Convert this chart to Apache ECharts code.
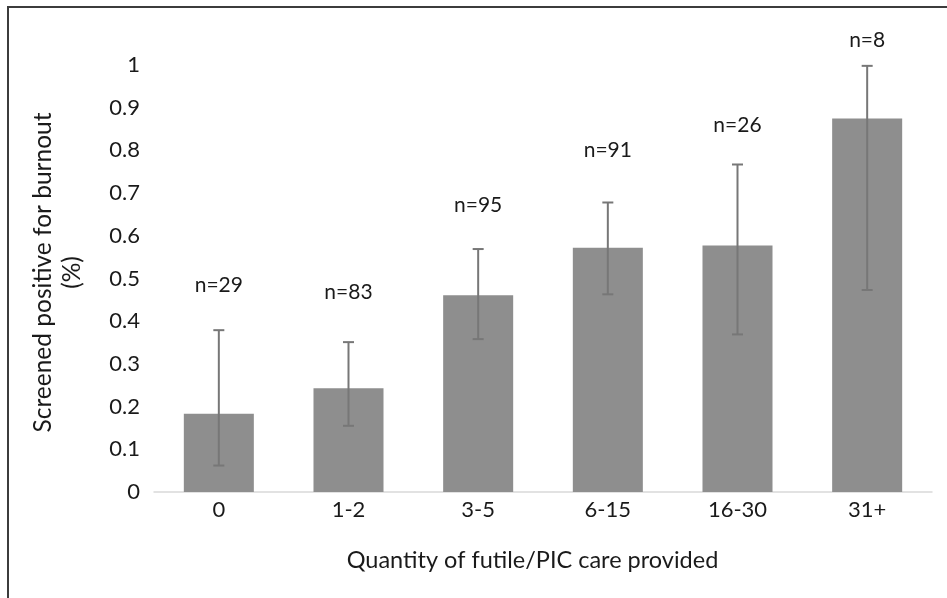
<!DOCTYPE html>
<html>
<head>
<meta charset="utf-8">
<script src="https://cdn.jsdelivr.net/npm/echarts@6/dist/echarts.min.js"></script>
<style>
html,body{margin:0;padding:0;background:#fff;}
#chart{width:947px;height:598px;}
</style>
</head>
<body>
<div id="chart"></div>
<script>
// ---- data ----
var categories = ['0', '1-2', '3-5', '6-15', '16-30', '31+'];
var burnout = [0.183, 0.243, 0.461, 0.572, 0.577, 0.875];
var errLow = [0.062, 0.155, 0.358, 0.463, 0.369, 0.473];
var errHigh = [0.379, 0.351, 0.569, 0.678, 0.767, 0.998];
var nLabels = ['n=29', 'n=83', 'n=95', 'n=91', 'n=26', 'n=8'];
var nLabelAt = [0.484, 0.469, 0.672, 0.801, 0.859, 1.059];
var yTicks = { min: 0, max: 1, interval: 0.1 };

var FONT = 'Lato, "Open Sans", sans-serif';
var chart = echarts.init(document.getElementById('chart'), null, { renderer: 'canvas' });

var errData = categories.map(function (c, i) { return [i, errLow[i], errHigh[i]]; });
var labelData = categories.map(function (c, i) { return [i, nLabelAt[i], nLabels[i]]; });

chart.setOption({
  animation: false,
  backgroundColor: '#fff',
  graphic: [{
    type: 'polyline',
    shape: { points: [[8, 598], [8, 7], [947, 7]] },
    style: { stroke: '#3c3c3c', lineWidth: 2, fill: null },
    silent: true
  }],
  grid: { left: 154, right: 15, top: 65, bottom: 106 },
  xAxis: {
    type: 'category',
    data: categories,
    axisLine: { lineStyle: { color: '#d9d9d9', width: 1.5 } },
    axisTick: { show: false },
    axisLabel: { color: '#1a1a1a', fontFamily: FONT, fontSize: 22, margin: 7 },
    name: 'Quantity of futile/PIC care provided',
    nameLocation: 'middle',
    nameGap: 56,
    nameTextStyle: { color: '#1a1a1a', fontFamily: FONT, fontSize: 23.5, padding: [0, 21, 0, 0] }
  },
  yAxis: {
    type: 'value',
    min: yTicks.min, max: yTicks.max, interval: yTicks.interval,
    splitLine: { show: false },
    axisLine: { show: false },
    axisTick: { show: false },
    axisLabel: { color: '#1a1a1a', fontFamily: FONT, fontSize: 22, margin: 14 },
    name: 'Screened positive for burnout\n(%)',
    nameLocation: 'middle',
    nameRotate: 90,
    nameGap: 67,
    nameTextStyle: { color: '#1a1a1a', fontFamily: FONT, fontSize: 24.5, lineHeight: 29, padding: [0, 0, 0, 12] }
  },
  series: [
    {
      type: 'bar',
      data: burnout,
      barCategoryGap: '46%',
      itemStyle: { color: '#8e8e8e' }
    },
    {
      type: 'custom',
      data: errData,
      z: 5,
      renderItem: function (params, api) {
        var x = api.coord([api.value(0), 0])[0];
        var lo = api.coord([api.value(0), api.value(1)])[1];
        var hi = api.coord([api.value(0), api.value(2)])[1];
        var cap = 5.5;
        var st = { stroke: '#777777', lineWidth: 2 };
        return {
          type: 'group',
          children: [
            { type: 'line', shape: { x1: x, y1: lo, x2: x, y2: hi }, style: st },
            { type: 'line', shape: { x1: x - cap, y1: hi, x2: x + cap, y2: hi }, style: st },
            { type: 'line', shape: { x1: x - cap, y1: lo, x2: x + cap, y2: lo }, style: st }
          ]
        };
      }
    },
    {
      type: 'custom',
      data: labelData,
      z: 6,
      renderItem: function (params, api) {
        var p = api.coord([api.value(0), api.value(1)]);
        return {
          type: 'text',
          x: p[0], y: p[1],
          style: {
            text: labelData[params.dataIndex][2],
            fill: '#1a1a1a',
            font: '21px ' + FONT,
            textAlign: 'center',
            textVerticalAlign: 'middle'
          }
        };
      }
    }
  ]
});
</script>
</body>
</html>
